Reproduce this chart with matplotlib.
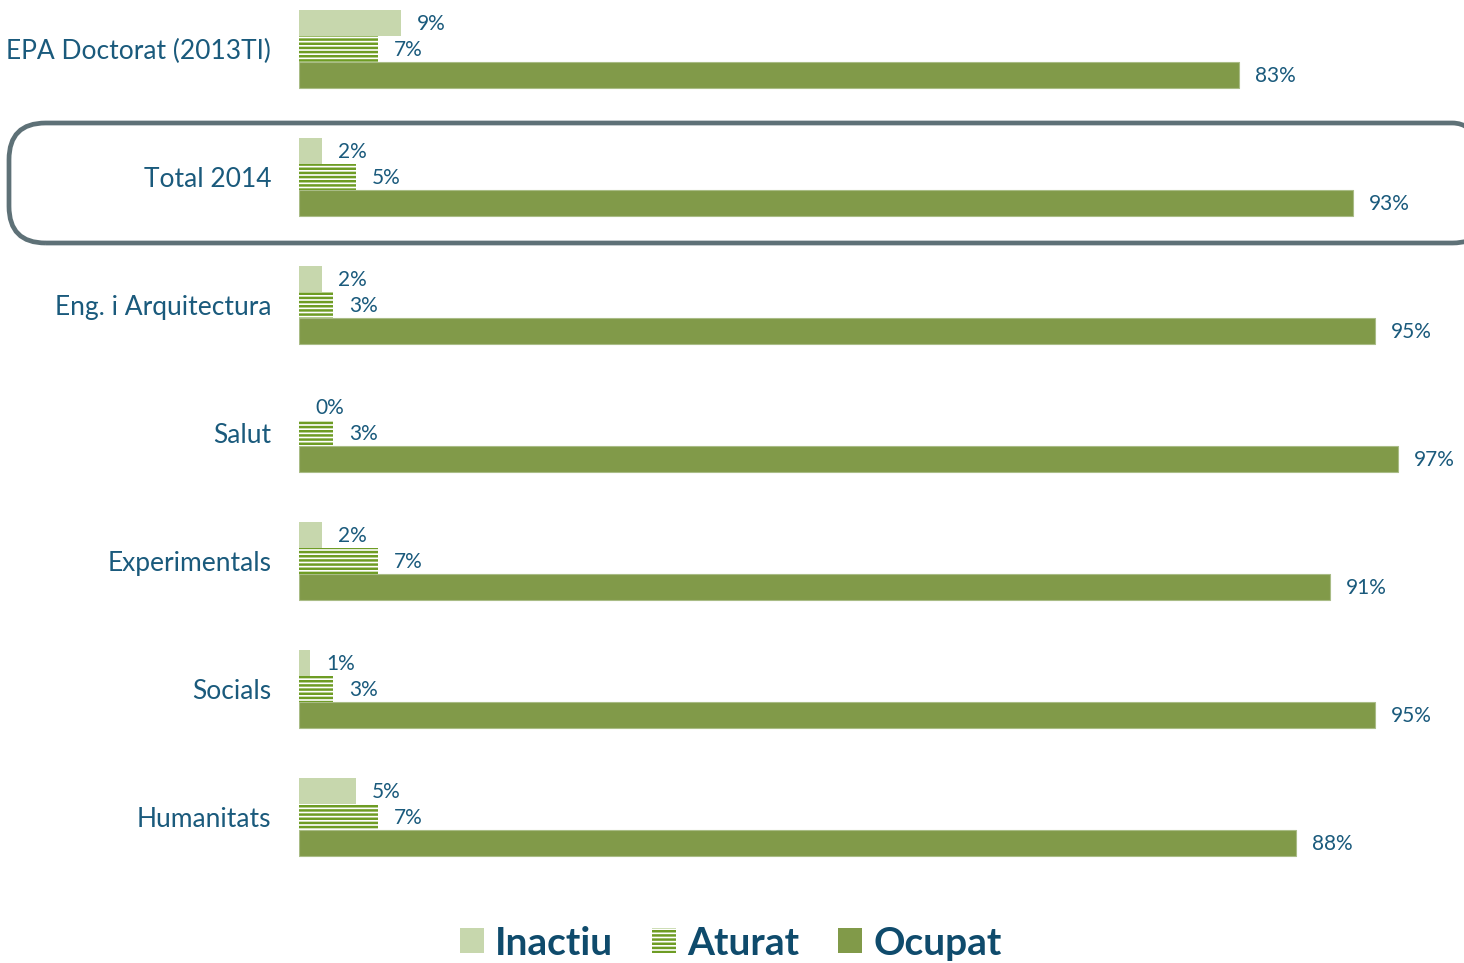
import matplotlib
matplotlib.use("Agg")
import matplotlib.pyplot as plt
from matplotlib.patches import FancyBboxPatch, Patch
import numpy as np

# ---------------------------------------------------------------------------
# Data
# ---------------------------------------------------------------------------

CATEGORIES = [
    "EPA Doctorat (2013TI)",
    "Total 2014",
    "Eng. i Arquitectura",
    "Salut",
    "Experimentals",
    "Socials",
    "Humanitats",
]
INACTIU = [9, 2, 2, 0, 2, 1, 5]
ATURAT = [7, 5, 3, 3, 7, 3, 7]
OCUPAT = [83, 93, 95, 97, 91, 95, 88]

C_INACTIU = "#C7D7AD"
C_ATURAT = "#6E9C24"
C_OCUPAT = "#819A49"
C_TEXT = "#1A5A7C"
C_LEGEND = "#0F4B6C"
C_BOX = "#5E7177"

plt.rcParams["font.family"] = ["Lato", "DejaVu Sans"]
plt.rcParams["hatch.linewidth"] = 1.8

W, H = 1464, 963
fig = plt.figure(figsize=(W / 100, H / 100), dpi=100)

# axes: x from pixel 299 to right edge, y from pixel 0 to 900
ax = fig.add_axes([299 / W, (H - 900) / H, 1 - 299 / W, 900 / H])

bar_h = 26 / 128
y = np.arange(len(CATEGORIES))

ax.barh(y - bar_h, INACTIU, height=bar_h, color=C_INACTIU, linewidth=0)
ax.barh(y, ATURAT, height=bar_h, color="white", edgecolor=C_ATURAT,
        hatch="----", linewidth=0)
ax.barh(y + bar_h, OCUPAT, height=bar_h, color=C_OCUPAT,
        edgecolor="#A9BC86", linewidth=0.8)

off = 16 / 11.33
for yi, a, b, c in zip(y, INACTIU, ATURAT, OCUPAT):
    for dy, v in ((-bar_h, a), (0, b), (bar_h, c)):
        ax.text(v + off, yi + dy + 0.01, f"{v}%", va="center", ha="left",
                fontsize=15, color=C_TEXT)

ax.set_xlim(0, (W - 299) / 11.33)
ax.set_ylim((900 - 49) / 128, -49 / 128)
ax.set_yticks(y)
ax.set_yticklabels(CATEGORIES, fontsize=19, color=C_TEXT)
ax.tick_params(axis="y", length=0, pad=20)
ax.set_xticks([])
for s in ax.spines.values():
    s.set_visible(False)

# rounded highlight box around "Total 2014"
box = FancyBboxPatch((9 / W, (H - 243) / H), 1480 / W, 120 / H,
                     boxstyle="round,pad=0,rounding_size=0.025",
                     transform=fig.transFigure, fill=False,
                     edgecolor=C_BOX, linewidth=3.4, mutation_aspect=W / H)
fig.patches.append(box)

handles = [
    Patch(facecolor=C_INACTIU, linewidth=0, label="Inactiu"),
    Patch(facecolor="white", edgecolor=C_ATURAT, hatch="----", linewidth=0,
          label="Aturat"),
    Patch(facecolor=C_OCUPAT, linewidth=0, label="Ocupat"),
]
leg = fig.legend(handles=handles, loc="center", bbox_to_anchor=(731 / W, (H - 943) / H),
                 ncol=3, frameon=False, handlelength=0.6, handleheight=0.6,
                 handletextpad=0.3, columnspacing=1.0,
                 prop={"size": 28, "weight": "bold"})
for t in leg.get_texts():
    t.set_color(C_LEGEND)

fig.savefig("out.png", dpi=100)
